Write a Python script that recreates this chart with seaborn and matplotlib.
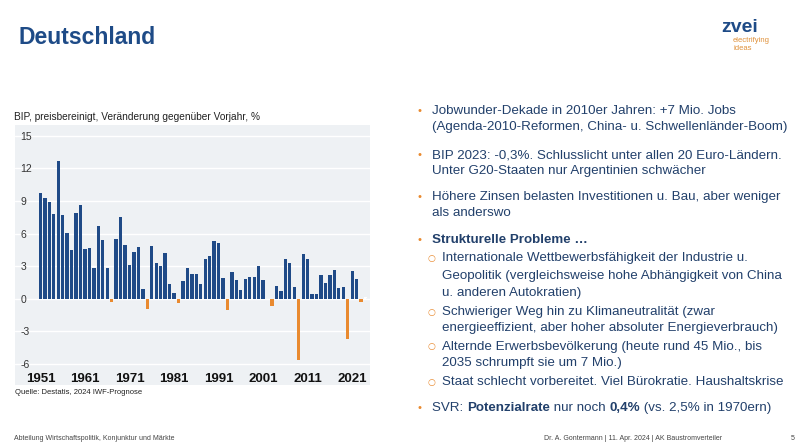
import matplotlib
matplotlib.use("Agg")
import matplotlib.pyplot as plt
import numpy as np
import pandas as pd
import seaborn as sns

# BIP-Wachstum Deutschland, % ggü. Vorjahr
years = list(range(1951, 2024))
growth = [9.7, 9.3, 8.9, 7.8, 12.7, 7.7, 6.1, 4.5, 7.9, 8.6,
          4.6, 4.7, 2.8, 6.7, 5.4, 2.8, -0.3, 5.5, 7.5, 5.0,
          3.1, 4.3, 4.8, 0.9, -0.9, 4.9, 3.3, 3.0, 4.2, 1.4,
          0.5, -0.4, 1.6, 2.8, 2.3, 2.3, 1.4, 3.7, 3.9, 5.3,
          5.1, 1.9, -1.0, 2.5, 1.7, 0.8, 1.8, 2.0, 2.0, 3.0,
          1.7, 0.0, -0.7, 1.2, 0.7, 3.7, 3.3, 1.1, -5.6, 4.1,
          3.7, 0.4, 0.4, 2.2, 1.5, 2.2, 2.7, 1.0, 1.1, -3.7,
          2.6, 1.8, -0.3]
forecast_year = 2024
forecast_value = 0.2
xtick_years = [1951, 1961, 1971, 1981, 1991, 2001, 2011, 2021]
yticks = [-6, -3, 0, 3, 6, 9, 12, 15]

BLUE = "#1f4a87"
ORANGE = "#e98a2f"
TEXT = "#22406b"
GREY_BG = "#eef1f4"

df = pd.DataFrame({"year": years, "growth": growth})
df["sign"] = np.where(df["growth"] < 0, "neg", "pos")

sns.set_style("white")
plt.rcParams["font.family"] = ["Liberation Sans", "DejaVu Sans"]

W, H = 800, 445
fig = plt.figure(figsize=(8, 4.45), dpi=100)

def fx(px):
    return px / W

def fy(py):
    return 1 - py / H

# chart
ax = fig.add_axes([fx(15), fy(385), fx(370) - fx(15), fy(125) - fy(385)])
ax.set_facecolor(GREY_BG)
sns.barplot(data=df, x="year", y="growth", hue="sign",
            palette={"pos": BLUE, "neg": ORANGE}, native_scale=True,
            dodge=False, width=0.75, legend=False, ax=ax, zorder=3,
            linewidth=0, edgecolor="none", saturation=1)
ax.bar([forecast_year], [forecast_value], width=0.7, color="white",
       edgecolor=BLUE, hatch="////", linewidth=0, zorder=3)
ax.set_xlim(1945.3, 2025.0)
ax.set_ylim(-7.93, 16.0)
ax.set_yticks(yticks)
ax.set_yticklabels([str(v) for v in yticks], fontsize=7.5, color="#333333")
for lbl in ax.get_yticklabels():
    lbl.set_horizontalalignment("left")
ax.tick_params(axis="y", length=0, pad=-4)
ax.set_xticks(xtick_years)
ax.set_xticklabels([str(v) for v in xtick_years], fontsize=9.5,
                   fontweight="bold", color="#111111")
ax.tick_params(axis="x", length=0, pad=-8.5)
ax.grid(axis="y", color="white", linewidth=1.0, zorder=0)
ax.set_axisbelow(True)
ax.set_xlabel("")
ax.set_ylabel("")
for s in ax.spines.values():
    s.set_visible(False)

fig.text(fx(14), fy(117), "BIP, preisbereinigt, Veränderung gegenüber Vorjahr, %",
         fontsize=7.3, color="#222222", va="center")
fig.text(fx(15), fy(392), "Quelle: Destatis, 2024 IWF-Prognose",
         fontsize=5.5, color="#222222", va="center")

# header
fig.text(fx(18), fy(38), "Deutschland", fontsize=16.5, fontweight="bold",
         color="#1e4b87", va="center")
fig.text(fx(721), fy(27), "zvei", fontsize=14, fontweight="bold",
         color="#1e4b87", va="center")
fig.text(fx(733), fy(41), "electrifying", fontsize=5.5, color="#e0913a", va="center")
fig.text(fx(733), fy(48), "ideas", fontsize=5.5, color="#e0913a", va="center")

# bullets
FS = 9.6
main = [
    (111, "Jobwunder-Dekade in 2010er Jahren: +7 Mio. Jobs", True),
    (127, "(Agenda-2010-Reformen, China- u. Schwellenländer-Boom)", False),
    (155, "BIP 2023: -0,3%. Schlusslicht unter allen 20 Euro-Ländern.", True),
    (171, "Unter G20-Staaten nur Argentinien schwächer", False),
    (197, "Höhere Zinsen belasten Investitionen u. Bau, aber weniger", True),
    (213, "als anderswo", False),
]
for y, t, bullet in main:
    if bullet:
        fig.text(fx(418), fy(y), "•", fontsize=8, color=ORANGE, va="center")
    fig.text(fx(432), fy(y), t, fontsize=FS, color=TEXT, va="center")

fig.text(fx(418), fy(240), "•", fontsize=8, color=ORANGE, va="center")
fig.text(fx(432), fy(240), "Strukturelle Probleme …", fontsize=FS,
         fontweight="bold", color=TEXT, va="center")

sub = [
    (258, "Internationale Wettbewerbsfähigkeit der Industrie u.", True),
    (276, "Geopolitik (vergleichsweise hohe Abhängigkeit von China", False),
    (293, "u. anderen Autokratien)", False),
    (312, "Schwieriger Weg hin zu Klimaneutralität (zwar", True),
    (328, "energieeffizient, aber hoher absoluter Energieverbrauch)", False),
    (347, "Alternde Erwerbsbevölkerung (heute rund 45 Mio., bis", True),
    (363, "2035 schrumpft sie um 7 Mio.)", False),
    (382, "Staat schlecht vorbereitet. Viel Bürokratie. Haushaltskrise", True),
]
for y, t, bullet in sub:
    if bullet:
        fig.text(fx(428), fy(y), "○", fontsize=6.5, color=ORANGE, va="center",
                 family=["DejaVu Sans"])
    fig.text(fx(442), fy(y), t, fontsize=FS, color=TEXT, va="center")

# last bullet with mixed weights
fig.text(fx(418), fy(408), "•", fontsize=8, color=ORANGE, va="center")
parts = [("SVR: ", "normal"), ("Potenzialrate", "bold"), (" nur noch ", "normal"),
         ("0,4%", "bold"), (" (vs. 2,5% in 1970ern)", "normal")]
renderer = fig.canvas.get_renderer()
xpos = 432
for t, w in parts:
    txt = fig.text(fx(xpos), fy(408), t, fontsize=FS, fontweight=w,
                   color=TEXT, va="center")
    bb = txt.get_window_extent(renderer=renderer)
    xpos += bb.width

# footer
fig.text(fx(14), fy(438), "Abteilung Wirtschaftspolitik, Konjunktur und Märkte",
         fontsize=5, color="#444444", va="center")
fig.text(fx(722), fy(438), "Dr. A. Gontermann | 11. Apr. 2024 | AK Baustromverteiler",
         fontsize=5, color="#444444", va="center", ha="right")
fig.text(fx(791), fy(438), "5", fontsize=5, color="#444444", va="center")

fig.savefig("out.png", dpi=100, facecolor="white")
